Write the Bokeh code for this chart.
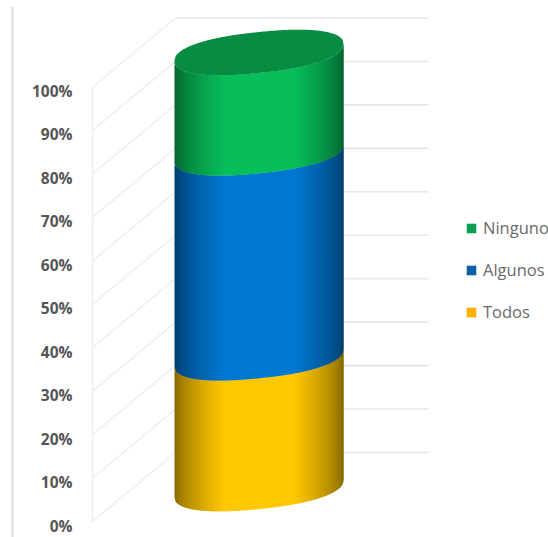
import numpy as np
from bokeh.embed import file_html
from bokeh.models import FixedTicker, Legend, LegendItem, PrintfTickFormatter
from bokeh.plotting import figure
from bokeh.resources import INLINE

# Stacked shares, bottom to top
categories = ["Todos", "Algunos", "Ninguno"]
shares = [30, 47, 23]
side_colors = ["#FFC800", "#0078D2", "#08BE5A"]
legend_colors = ["#FFB000", "#0F5FA8", "#0A9F55"]
lid_color = "#078C44"
percent_ticks = list(range(0, 101, 10))

PX_PER_UNIT = 4.345
AXIS_ZERO_PX = 525
WIN_W, WIN_H = 548, 537


def units(px):
    return px / PX_PER_UNIT


p = figure(
    width=WIN_W, height=WIN_H,
    x_range=(0, WIN_W),
    y_range=(-units(WIN_H - AXIS_ZERO_PX), units(AXIS_ZERO_PX)),
    output_backend="svg", toolbar_location=None,
    min_border=0, outline_line_color=None,
    background_fill_color="white", border_fill_color="white",
)
p.grid.visible = False
p.xaxis.visible = False

# Value axis sits on the left of the wall, labels only
yaxis = p.yaxis[0]
yaxis.fixed_location = 78
yaxis.ticker = FixedTicker(ticks=percent_ticks)
yaxis.formatter = PrintfTickFormatter(format="%d%%")
yaxis.axis_line_color = None
yaxis.major_tick_line_color = None
yaxis.minor_tick_line_color = None
yaxis.major_label_standoff = 0
yaxis.major_label_text_font = "Open Sans"
yaxis.major_label_text_font_size = "15.5px"
yaxis.major_label_text_font_style = "bold"
yaxis.major_label_text_color = "#555555"

# Walls of the 3-D box: front edge, diagonals and back gridlines
FRONT_X, BACK_X, BACK_END_X = 92, 175, 428
front_lift = units(4)
back_lift = units(73)
for t in percent_ticks:
    yf = t + front_lift
    yb = t + back_lift
    p.line([FRONT_X, BACK_X], [yf, yb], line_color="#efefef", line_width=1.6)
    p.line([BACK_X, BACK_END_X], [yb, yb], line_color="#e6e6e6", line_width=1.6)
p.line([FRONT_X, FRONT_X], [front_lift, 100 + front_lift],
       line_color="#eeeeee", line_width=1.6)

# Chart-area border on the left
p.line([12, 12], [-units(12), units(AXIS_ZERO_PX - 6)],
       line_color="#e2e2e2", line_width=2.5)

# Cylinder
CYL_LEFT, CYL_RIGHT = 174.0, 343.0
CX = (CYL_LEFT + CYL_RIGHT) / 2
RX = (CYL_RIGHT - CYL_LEFT) / 2
BASE = units(AXIS_ZERO_PX - 488)
HEIGHT = units(436) / 100
TILT = units(8.5)
HALF = units(20.5)
ROUNDNESS = 2.3
SHADE_PX = 50
EDGE_DARK = 0.5


def rim(x, level, sign=-1):
    signed = (np.asarray(x, dtype=float) - CX) / RX
    bulge = np.clip(1 - np.abs(signed) ** ROUNDNESS, 0, 1) ** (1 / ROUNDNESS)
    return BASE + level * HEIGHT + TILT * signed + sign * HALF * bulge


def shade(hex_color, x):
    d = min(x - CYL_LEFT, CYL_RIGHT - x)
    f = min(1.0, EDGE_DARK + (1 - EDGE_DARK) * (d / SHADE_PX) ** 0.65)
    rgb = [int(hex_color[i:i + 2], 16) for i in (1, 3, 5)]
    return "#%02x%02x%02x" % tuple(int(c * f) for c in rgb)


# Each side band is a run of narrow strips; a strip overlaps its neighbour so no seams show
STEP = 1.5
edges = np.arange(CYL_LEFT, CYL_RIGHT, STEP)
cum = np.concatenate([[0], np.cumsum(shares)])
for i, color in enumerate(side_colors):
    xs, ys, fills = [], [], []
    for x0 in edges:
        x1 = min(x0 + STEP + 1.0, CYL_RIGHT)
        xm = np.linspace(x0, x1, 4)
        xs.append(np.concatenate([xm, xm[::-1]]))
        ys.append(np.concatenate([rim(xm, cum[i]), rim(xm[::-1], cum[i + 1])]))
        fills.append(shade(color, x0 + STEP / 2))
    p.patches(xs, ys, fill_color=fills, line_color=None)

# Lid of the cylinder
lid_x = np.linspace(CYL_LEFT, CYL_RIGHT, 200)
p.patch(np.concatenate([lid_x, lid_x[::-1]]),
        np.concatenate([rim(lid_x, cum[-1], -1), rim(lid_x[::-1], cum[-1], 1)]),
        fill_color=lid_color, line_color=None)

# Legend keys, top series first
items = []
for name, color in reversed(list(zip(categories, legend_colors))):
    r = p.quad(left=[np.nan], right=[np.nan], top=[np.nan], bottom=[np.nan],
               fill_color=color, line_color=None)
    items.append(LegendItem(label=name, renderers=[r]))
legend = Legend(
    items=items, location=(465, 214), orientation="vertical",
    border_line_color=None, background_fill_alpha=0,
    glyph_width=12, glyph_height=12, label_standoff=6,
    spacing=19, padding=0, margin=0,
    label_text_font="Open Sans", label_text_font_size="16.5px",
    label_text_color="#6a6a6a",
)
p.add_layout(legend, "center")

open("out.html", "w").write(file_html(p, INLINE))
